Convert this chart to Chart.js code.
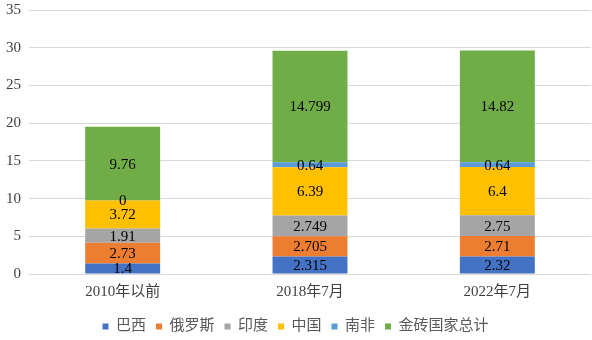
<!DOCTYPE html>
<html>
<head>
<meta charset="utf-8">
<script src="https://cdn.jsdelivr.net/npm/chart.js@4"></script>
<style>
  body { margin: 0; background: #fff; }
  #wrap { width: 592px; height: 340px; }
</style>
</head>
<body>
<div id="wrap"><canvas id="myChart" width="592" height="340"></canvas></div>
<script>
// data
const categories = ['2010年以前', '2018年7月', '2022年7月']
const brazil = [1.4, 2.315, 2.32]
const russia = [2.73, 2.705, 2.71]
const india = [1.91, 2.749, 2.75]
const china = [3.72, 6.39, 6.4]
const southAfrica = [0, 0.64, 0.64]
const brics = [9.76, 14.799, 14.82]

const fontFamily = "'Liberation Serif', 'Noto Sans CJK SC', serif"

// draw value in the middle of every segment
const valueLabels = {
  id: 'valueLabels',
  afterDatasetsDraw(chart) {
    const ctx = chart.ctx
    ctx.save()
    ctx.font = '15px ' + fontFamily
    ctx.fillStyle = '#000'
    ctx.textAlign = 'center'
    ctx.textBaseline = 'middle'
    chart.data.datasets.forEach((ds, i) => {
      const meta = chart.getDatasetMeta(i)
      if (meta.hidden) return
      meta.data.forEach((bar, j) => {
        const y = (bar.y + bar.base) / 2
        ctx.fillText(String(ds.data[j]), bar.x, y + 1)
      })
    })
    ctx.restore()
  }
}

const data = {
  labels: categories,
  datasets: [
    { label: '巴西', data: brazil, backgroundColor: '#4472C4' },
    { label: '俄罗斯', data: russia, backgroundColor: '#ED7D31' },
    { label: '印度', data: india, backgroundColor: '#A5A5A5' },
    { label: '中国', data: china, backgroundColor: '#FFC000' },
    { label: '南非', data: southAfrica, backgroundColor: '#5B9BD5' },
    { label: '金砖国家总计', data: brics, backgroundColor: '#70AD47' }
  ]
}

const config = {
  type: 'bar',
  data,
  options: {
    responsive: false,
    animation: false,
    layout: { padding: { top: 10, right: 1, bottom: -4, left: 0 } },
    datasets: { bar: { categoryPercentage: 1, barPercentage: 0.4 } },
    plugins: {
      tooltip: { enabled: false },
      legend: {
        position: 'bottom',
        labels: {
          boxWidth: 6,
          boxHeight: 6,
          padding: 10,
          color: '#595959',
          font: { family: fontFamily, size: 15, lineHeight: 1 }
        }
      }
    },
    scales: {
      x: {
        stacked: true,
        grid: { display: false },
        border: { display: false },
        ticks: { color: '#404040', font: { family: fontFamily, size: 15, lineHeight: 1 }, padding: 3 },
        afterFit(scale) { scale.height += 6 }
      },
      y: {
        stacked: true,
        min: 0,
        max: 35,
        ticks: { stepSize: 5, color: '#404040', font: { family: fontFamily, size: 15, lineHeight: 1 }, padding: 8 },
        grid: { color: '#d9d9d9', lineWidth: 1, drawTicks: false },
        border: { display: false },
        afterFit(scale) {
          scale.width = 29
          scale.paddingTop = 0
        }
      }
    }
  },
  plugins: [valueLabels]
}

const myChart = new Chart(document.getElementById('myChart'), config)
</script>
</body>
</html>
